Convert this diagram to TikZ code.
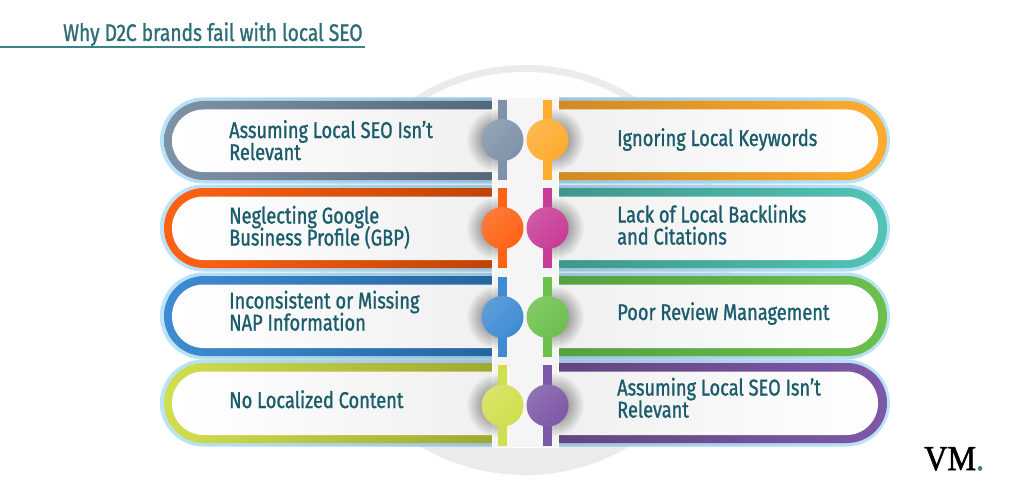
\documentclass[tikz,border=0pt]{standalone}
\usepackage{xcolor}
\usepackage{fontspec}
\setmainfont[FakeStretch=0.8,FakeBold=1.1]{Fira Sans}
\newfontfamily\logofont[FakeStretch=0.92,FakeBold=1.6]{Liberation Serif}
\usetikzlibrary{fadings}

\definecolor{textteal}{HTML}{1A5C6B}
\definecolor{titleteal}{HTML}{2F6E76}
\definecolor{ruleteal}{HTML}{3A8489}
\definecolor{haloblue}{HTML}{BBE4FA}
\definecolor{halodark}{HTML}{9CC4DC}
\definecolor{slatec}{HTML}{7F93A8}
\definecolor{slated}{HTML}{55677A}
\definecolor{orangec}{HTML}{FF6314}
\definecolor{oranged}{HTML}{BE4405}
\definecolor{bluec}{HTML}{3F8CD2}
\definecolor{blued}{HTML}{24669F}
\definecolor{limec}{HTML}{D0DF4E}
\definecolor{limed}{HTML}{A0A830}
\definecolor{amberc}{HTML}{FFAC30}
\definecolor{amberd}{HTML}{D08A20}
\definecolor{tealc}{HTML}{52C4B5}
\definecolor{teald}{HTML}{3F968C}
\definecolor{magentac}{HTML}{C83C96}
\definecolor{greenc}{HTML}{6CC04C}
\definecolor{greend}{HTML}{55A040}
\definecolor{purplec}{HTML}{7E58A8}
\definecolor{purpled}{HTML}{64457F}

\tikzfading[name=softglow, inner color=transparent!35, outer color=transparent!100]

\tikzset{
  itemtext/.style={anchor=base west, align=left, inner sep=0pt, text=textteal, font=\fontsize{22.8}{22}\selectfont\lineskiplimit-8pt\relax},
  glowshadow/.style={black, path fading=softglow},
}

% left bar: top, bottom, light colour, dark colour
\newcommand{\leftbar}[4]{
  \shade[left color=haloblue, right color=halodark] (492,#1-3.5) [rounded corners=43.5pt] -- (160,#1-3.5) -- (160,#2+3.5) [sharp corners] -- (492,#2+3.5) -- cycle;
  \shade[left color=#3, right color=#4] (492,#1) [rounded corners=40pt] -- (164,#1) -- (164,#2) [sharp corners] -- (492,#2) -- cycle;
  \shade[left color=white, middle color=white, right color=black!6] (492,#1+8.5) [rounded corners=31.5pt] -- (172,#1+8.5) -- (172,#2-8) [sharp corners] -- (492,#2-8) -- cycle;
}
% right bar: top, bottom, light colour, dark colour
\newcommand{\rightbar}[4]{
  \shade[right color=haloblue, left color=halodark] (558,#1-3.5) [rounded corners=43.5pt] -- (890,#1-3.5) -- (890,#2+3.5) [sharp corners] -- (558,#2+3.5) -- cycle;
  \shade[right color=#3, left color=#4] (558,#1) [rounded corners=40pt] -- (887,#1) -- (887,#2) [sharp corners] -- (558,#2) -- cycle;
  \shade[right color=white, middle color=white, left color=black!6] (558,#1+8.5) [rounded corners=31.5pt] -- (878,#1+8.5) -- (878,#2-8) [sharp corners] -- (558,#2-8) -- cycle;
}
% pin: x, top, bottom, colour
\newcommand{\pin}[4]{
  \fill[#4] (#1-4.5,#2) rectangle (#1+4.5,#3);
  \shade[top color=#4!85!white, bottom color=#4, shading angle=45] (#1,#2/2+#3/2) circle (21);
}

\begin{document}
\begin{tikzpicture}[x=1pt,y=-1pt]
    \useasboundingbox (0,0) rectangle (1024,500);
    \fill[white] (0,0) rectangle (1024,500);

    % Heading
    \node[anchor=base west, text=titleteal, font=\fontsize{24}{27}\selectfont, inner sep=0pt] (title) at (63,41) {Why D2C brands fail with local SEO};
    \draw[ruleteal, line width=2pt] (0,47) -- (365,47);

    % Back disc
    \fill[black!8] (525,270) circle (205);
    \shade[top color=white, bottom color=black!8] (525,270) circle (198);

    % Bars
    \leftbar{363}{443}{limec}{limed}
    \leftbar{276}{356}{bluec}{blued}
    \leftbar{188}{268}{orangec}{oranged}
    \leftbar{101}{180}{slatec}{slated}
    \rightbar{363}{443}{purplec}{purpled}
    \rightbar{276}{356}{greenc}{greend}
    \rightbar{188}{268}{tealc}{teald}
    \rightbar{101}{180}{amberc}{amberd}

    % Middle strip
    \fill[black!4, draw=white] (492,97) rectangle (558,447);

    % Shadows
    \begin{scope}
      \clip (440,90) rectangle (502,450);
      \foreach \ypos in {140,228,317,405} {
        \fill[glowshadow] (498,\ypos) circle (32);
      }
    \end{scope}
    \begin{scope}
      \clip (548,90) rectangle (610,450);
      \foreach \ypos in {140,228,317,405} {
        \fill[glowshadow] (552,\ypos) circle (32);
      }
    \end{scope}

    % Pins
    \pin{502.5}{100}{180}{slatec}
    \pin{502.5}{188}{268}{orangec}
    \pin{502.5}{277}{357}{bluec}
    \pin{502.5}{365}{446}{limec}
    \pin{547.5}{100}{180}{amberc}
    \pin{547.5}{188}{268}{magentac}
    \pin{547.5}{277}{357}{greenc}
    \pin{547.5}{365}{446}{purplec}

    % Labels
    \node[itemtext] (slatetext) at (229,160) {Assuming Local SEO Isn't\\Relevant};
    \node[itemtext] (orangetext) at (229,245.5) {Neglecting Google\\Business Profile (GBP)};
    \node[itemtext] (bluetext) at (229,330.5) {Inconsistent or Missing\\NAP Information};
    \node[itemtext] (limetext) at (229,408) {No Localized Content};
    \node[itemtext] (ambertext) at (617,146) {Ignoring Local Keywords};
    \node[itemtext] (tealtext) at (617,244.5) {Lack of Local Backlinks\\and Citations};
    \node[itemtext] (greentext) at (617,320) {Poor Review Management};
    \node[itemtext] (purpletext) at (617,417.5) {Assuming Local SEO Isn't\\Relevant};

    % Logo
    \node[anchor=base west, inner sep=0pt, font=\logofont\fontsize{35}{35}\selectfont] (logo) at (924,470) {VM\textcolor{ruleteal}{.}};
\end{tikzpicture}
\end{document}
